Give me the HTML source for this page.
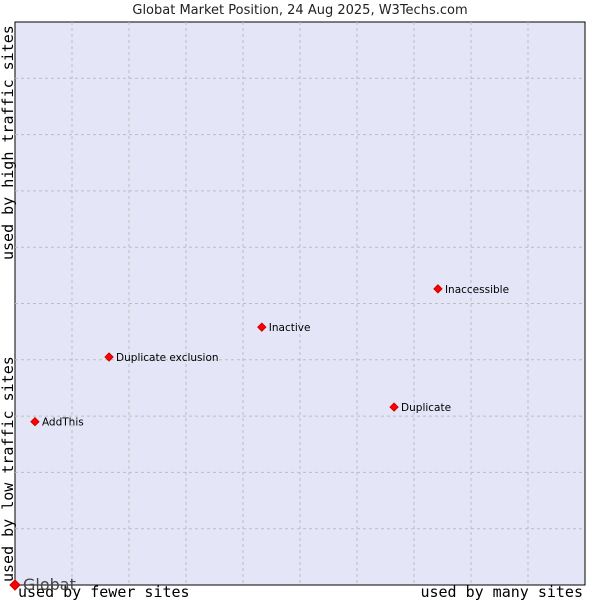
<!DOCTYPE html>
<html><head><meta charset="utf-8"><style>
body{margin:0;background:#fff;}
svg{display:block;font-family:"DejaVu Sans","Liberation Sans",sans-serif;}
</style></head><body>
<svg id="chart" width="600" height="600" viewBox="0 0 600 600">
<text x="300" y="14" text-anchor="middle" font-size="13" fill="#222">Globat Market Position, 24 Aug 2025, W3Techs.com</text>
<rect x="15" y="22" width="570" height="563" fill="#e4e6f8" stroke="#000" stroke-width="1"/>
<g id="grid"></g>
<text transform="translate(13,260) rotate(-90)" font-family="DejaVu Sans Mono,Liberation Mono,monospace" font-size="15" fill="#000">used by high traffic sites</text>
<text transform="translate(13,582) rotate(-90)" font-family="DejaVu Sans Mono,Liberation Mono,monospace" font-size="15" fill="#000">used by low traffic sites</text>
<text x="18" y="597" font-family="DejaVu Sans Mono,Liberation Mono,monospace" font-size="15" fill="#000">used by fewer sites</text>
<text x="583" y="597" text-anchor="end" font-family="DejaVu Sans Mono,Liberation Mono,monospace" font-size="15" fill="#000">used by many sites</text>
<g id="points"></g>
</svg>
<script>
const labels = ["Globat","AddThis","Duplicate exclusion","Inactive","Duplicate","Inaccessible"];
const xValues = [0,3.5,16.5,43.3,66.5,74.2];
const yValues = [0,29,40.5,45.8,31.6,52.6];
const NS="http://www.w3.org/2000/svg";
const L=15,R=585,T=22,B=585;
const sx=v=>L+v/100*(R-L);
const sy=v=>B-v/100*(B-T);
const grid=document.getElementById('grid');
for(let i=1;i<10;i++){
  const v=document.createElementNS(NS,'line');
  
  
  v.setAttribute('x1',sx(i*10));v.setAttribute('x2',sx(i*10));v.setAttribute('y1',T);v.setAttribute('y2',B);
  v.setAttribute('stroke','#bdbdbd');v.setAttribute('stroke-dasharray','3,3');
  grid.appendChild(v);
  const h=document.createElementNS(NS,'line');
  
  
  h.setAttribute('y1',sy(i*10));h.setAttribute('y2',sy(i*10));h.setAttribute('x1',L);h.setAttribute('x2',R);
  h.setAttribute('stroke','#bdbdbd');h.setAttribute('stroke-dasharray','3,3');
  grid.appendChild(h);
}
const pts=document.getElementById('points');
labels.forEach((lab,i)=>{
  const x=sx(xValues[i]),y=sy(yValues[i]);
  const big=i===0;
  const r=big?5:4;
  const d=document.createElementNS(NS,'polygon');
  
  
  d.setAttribute('points',`${x},${y-r} ${x+r},${y} ${x},${y+r} ${x-r},${y}`);
  d.setAttribute('fill','#ff0000');d.setAttribute('stroke','#cc0000');
  pts.appendChild(d);
  const t=document.createElementNS(NS,'text');
  
  
  t.setAttribute('x',x+(big?8:7));t.setAttribute('y',y+(big?5:4));
  t.setAttribute('font-size',big?'16':'10.5');
  t.setAttribute('fill',big?'#444':'#000');
  t.textContent=lab;
  pts.appendChild(t);
});
</script>
</body></html>
